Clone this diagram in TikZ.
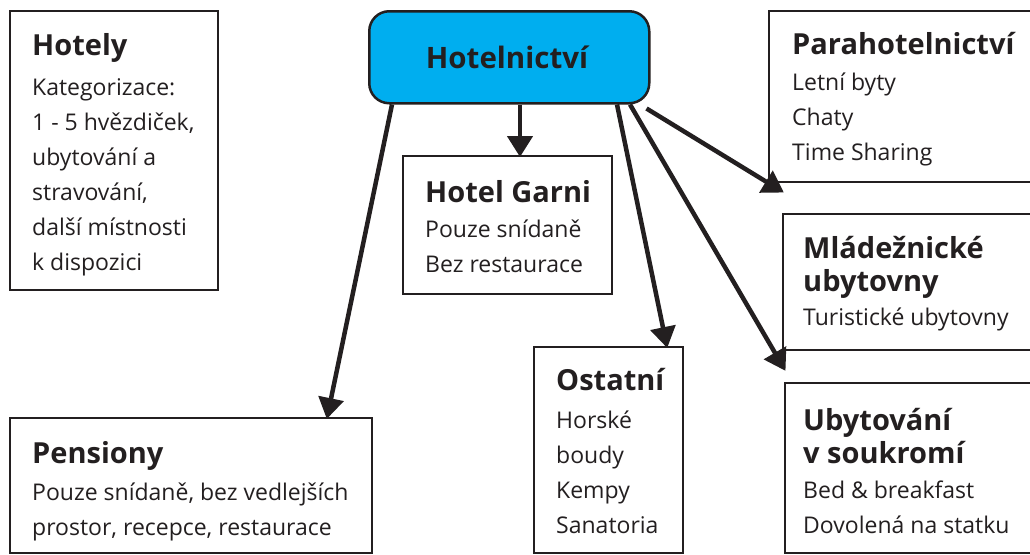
\documentclass[tikz,border=0pt]{standalone}
\usepackage{fontspec}
\setmainfont{Open Sans}
\usetikzlibrary{arrows.meta}
\definecolor{ink}{HTML}{231F20}
\definecolor{cyanbox}{HTML}{00AEEF}
\tikzset{
  box/.style={draw=ink, line width=2.5pt, fill=white},
  ttl/.style={anchor=base west, inner sep=0pt, text=ink, font=\bfseries\fontsize{29}{33}\selectfont, align=left},
  bdy/.style={anchor=base west, inner sep=0pt, text=ink, font=\fontsize{23}{35}\selectfont, align=left},
  arr/.style={draw=ink, line width=4.5pt, -{Triangle[length=21pt,width=25pt]}, shorten >=-1pt},
  frame/.style={inner sep=0pt, anchor=north west},
}
\begin{document}
\begin{tikzpicture}[x=1pt,y=-1pt]
\useasboundingbox (0,0) rectangle (1030,554);
\clip (0,0) rectangle (1030,554);
\fill[white] (0,0) rectangle (1030,554);
% boxes
\node[frame, minimum width=208pt, minimum height=279pt] (hot) at (10,11) {};
\draw[box] (10,11) rectangle (218,290);
\node[frame, minimum width=280pt, minimum height=171pt] (par) at (769,11) {};
\draw[box] (769,11) rectangle (1045,182);
\node[frame, minimum width=209pt, minimum height=138pt] (gar) at (403,156) {};
\draw[box] (403,156) rectangle (612,294);
\node[frame, minimum width=260pt, minimum height=136pt] (mla) at (783,214) {};
\draw[box] (783,214) rectangle (1045,350);
\node[frame, minimum width=260pt, minimum height=170pt] (uby) at (785,383) {};
\draw[box] (785,383) rectangle (1045,553);
\node[frame, minimum width=149pt, minimum height=206pt] (ost) at (534,347) {};
\draw[box] (534,347) rectangle (683,553);
\node[frame, minimum width=362pt, minimum height=135pt] (pen) at (10,418) {};
\draw[box] (10,418) rectangle (372,553);
% centre
\node[draw=ink, line width=2.5pt, fill=cyanbox, rounded corners=20pt, minimum width=280pt, minimum height=92pt, inner sep=0pt, anchor=north west] (c) at (368,10) {};
\node[anchor=base, inner sep=0pt, text=ink, font=\bfseries\fontsize{29.5}{36}\selectfont] (ctext) at (507,68) {Hotelnictví};
% texts (multi-line nodes anchored at the baseline of their last line)
\node[ttl] (hotT) at (32,55) {Hotely};
\node[bdy] (hotB) at (32,270) {Kategorizace:\\1 - 5 hvězdiček,\\ubytování a\\stravování,\\další místnosti\\k dispozici};
\node[ttl] (parT) at (792,54) {Parahotelnictví};
\node[bdy] (parB) at (792,160) {Letní byty\\Chaty\\Time Sharing};
\node[ttl] (garT) at (425,202) {Hotel Garni};
\node[bdy] (garB) at (425,272) {Pouze snídaně\\Bez restaurace};
\node[ttl] (mlaT) at (803,291) {Mládežnické\\ubytovny};
\node[bdy] (mlaB) at (803,325) {Turistické ubytovny};
\node[ttl] (ubyT) at (803,463) {Ubytování\\v soukromí};
\node[bdy] (ubyB) at (803,533) {Bed \& breakfast\\Dovolená na statku};
\node[ttl] (ostT) at (556,390) {Ostatní};
\node[bdy] (ostB) at (556,533) {Horské\\boudy\\Kempy\\Sanatoria};
\node[ttl] (penT) at (32,463) {Pensiony};
\node[bdy] (penB) at (32,535) {Pouze snídaně, bez vedlejších\\prostor, recepce, restaurace};
% arrows
\draw[arr] ([yshift=38pt]c.north west) -- ([yshift=37pt]hot.north east);
\draw[arr] ([yshift=38pt]c.north east) -- ([yshift=37pt]par.north west);
\draw[arr] ([xshift=152pt]c.south west) -- ([xshift=117pt]gar.north west);
\draw[arr] ([xshift=24pt]c.south west) -- ([xshift=317pt]pen.north west);
\draw[arr] ([xshift=249pt]c.south west) -- ([xshift=133pt]ost.north west);
\draw[arr] ([xshift=262pt]c.south west) -- ([yshift=13pt]uby.north west);
\draw[arr] ([xshift=-4pt,yshift=-4pt]c.south east) -- ([yshift=22pt]mla.north west);
\end{tikzpicture}
\end{document}
